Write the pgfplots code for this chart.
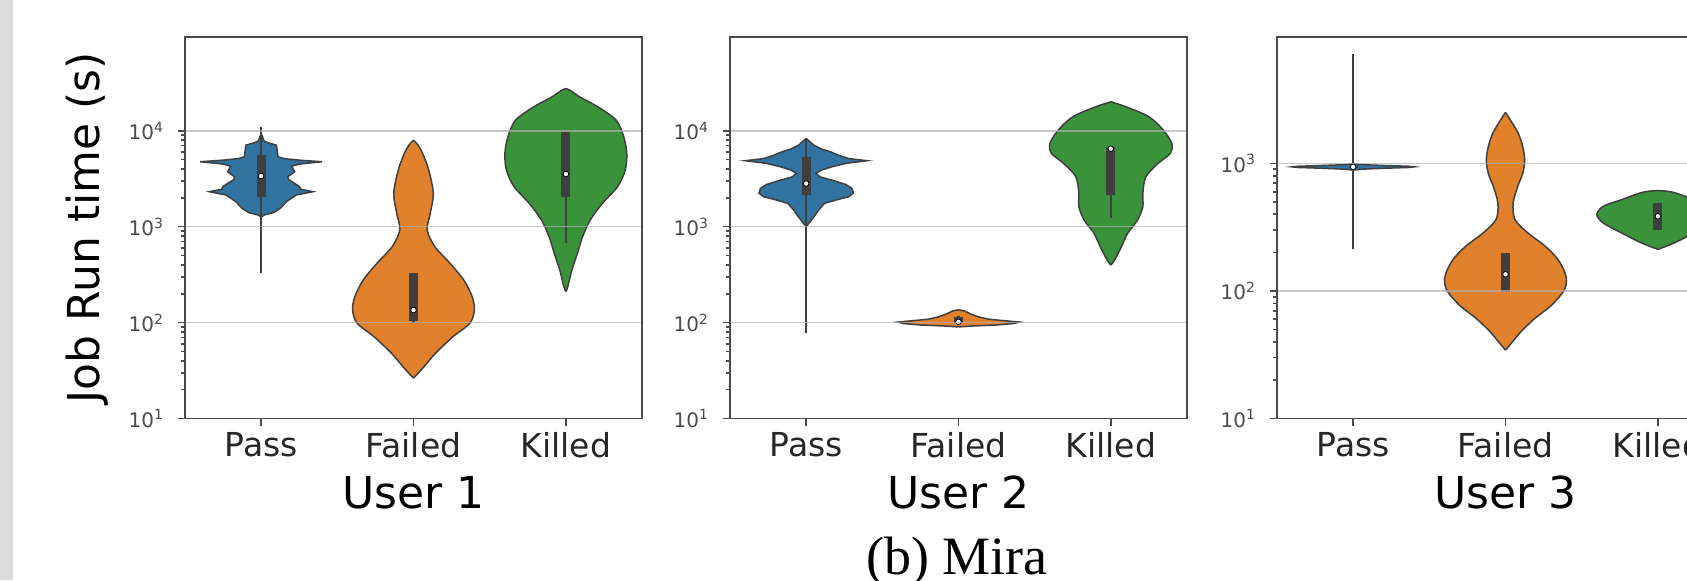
\documentclass[border=0pt]{standalone}
\usepackage{fontspec}
\setmainfont{DejaVu Sans}
\newfontfamily\seriffont{Liberation Serif}
\usepackage{pgfplots}
\usepackage{pgfplotstable}
\pgfplotsset{compat=1.18}
\usepgfplotslibrary{fillbetween}

\definecolor{cblue}{HTML}{3274A1}
\definecolor{corange}{HTML}{E1812C}
\definecolor{cgreen}{HTML}{3A923A}
\definecolor{edgec}{HTML}{3F3F3F}
\definecolor{gridc}{HTML}{B0B0B0}
\definecolor{framec}{HTML}{4A4A4A}
\definecolor{stripc}{HTML}{DCDCDC}

% violin outlines: l = log10(run time), w = half width (category units)
\pgfplotstableread{
l w
3.10 0.00
3.122 0.02
3.146 0.08
3.191 0.125
3.26 0.165
3.33 0.23
3.365 0.34
3.39 0.26
3.42 0.25
3.451 0.22
3.49 0.18
3.521 0.175
3.55 0.20
3.573 0.22
3.60 0.21
3.63 0.20
3.653 0.25
3.677 0.40
3.695 0.24
3.71 0.15
3.729 0.11
3.80 0.105
3.85 0.10
3.868 0.06
3.89 0.02
3.93 0.01
3.97 0.00
}\vAp
\pgfplotstableread{
l w
1.42 0.00
1.542 0.07
1.681 0.145
1.854 0.26
1.993 0.37
2.132 0.40
2.271 0.385
2.444 0.33
2.618 0.24
2.792 0.14
2.965 0.09
3.139 0.11
3.347 0.13
3.59 0.10
3.764 0.06
3.85 0.03
3.903 0.00
}\vAf
\pgfplotstableread{
l w
2.323 0.00
2.375 0.013
2.549 0.04
2.722 0.076
2.896 0.11
3.069 0.16
3.243 0.24
3.417 0.34
3.59 0.39
3.764 0.40
3.9375 0.38
4.111 0.33
4.25 0.21
4.354 0.09
4.42 0.03
4.441 0.00
}\vAk
\pgfplotstableread{
l w
3.00 0.00
3.04 0.02
3.10 0.05
3.17 0.08
3.243 0.12
3.28 0.20
3.3125 0.28
3.35 0.31
3.40 0.30
3.44 0.26
3.48 0.18
3.52 0.09
3.556 0.065
3.59 0.10
3.625 0.17
3.66 0.26
3.6875 0.40
3.71 0.28
3.74 0.22
3.78 0.16
3.81 0.10
3.85 0.05
3.92 0.00
}\vBp
\pgfplotstableread{
l w
1.955 0.00
1.965 0.10
1.975 0.25
1.99 0.36
2.005 0.40
2.02 0.30
2.035 0.20
2.06 0.13
2.09 0.08
2.12 0.04
2.135 0.00
}\vBf
\pgfplotstableread{
l w
2.60 0.00
2.653 0.025
2.792 0.07
2.93 0.11
3.069 0.175
3.208 0.21
3.347 0.21
3.521 0.23
3.66 0.31
3.764 0.39
3.868 0.40
4.007 0.345
4.146 0.25
4.25 0.10
4.302 0.00
}\vBk
\pgfplotstableread{
l w
2.948 0.00
2.955 0.06
2.962 0.20
2.968 0.36
2.973 0.40
2.978 0.36
2.984 0.20
2.990 0.06
2.997 0.00
}\vCp
\pgfplotstableread{
l w
1.536 0.00
1.60 0.045
1.679 0.10
1.782 0.19
1.886 0.30
1.99 0.377
2.067 0.40
2.145 0.39
2.249 0.343
2.352 0.26
2.456 0.146
2.56 0.062
2.689 0.05
2.819 0.08
2.922 0.113
3.026 0.126
3.13 0.113
3.233 0.085
3.337 0.034
3.40 0.00
}\vCf
\pgfplotstableread{
l w
2.326 0.00
2.378 0.11
2.456 0.24
2.534 0.36
2.598 0.40
2.663 0.36
2.715 0.24
2.767 0.12
2.782 0.06
2.787 0.00
}\vCk

% #1 table, #2 centre, #3 colour, #4 id, #5 extra options
\newcommand{\violin}[5]{%
  \addplot[edgec, line width=0.75pt, name path=#4r, #5, forget plot] table[x expr={#2+\thisrow{w}}, y expr={10^(\thisrow{l})}] {#1};
  \addplot[edgec, line width=0.75pt, name path=#4l, #5, forget plot] table[x expr={#2-\thisrow{w}}, y expr={10^(\thisrow{l})}] {#1};
  \addplot[fill=#3, draw=none, forget plot] fill between[of=#4r and #4l];
}
% #1 centre, #2-#3 whisker, #4-#5 box, #6 median
\newcommand{\innerbox}[6]{%
  \addplot[edgec, line width=1.1pt, forget plot] coordinates {(#1,#2) (#1,#3)};
  \addplot[edgec, line width=4.5pt, forget plot] coordinates {(#1,#4) (#1,#5)};
  \addplot[only marks, mark=*, mark size=1.4pt, mark options={fill=white, draw=none}, forget plot] coordinates {(#1,#6)};
}

\begin{document}
\begin{tikzpicture}
\fill[stripc] (0,0) rectangle (6.25pt,290pt);

\begin{axis}[
    scale only axis, width=228.5pt, height=190.75pt, anchor=south west,
    at={(92.5pt,80.75pt)},
    xmin=-0.5, xmax=2.5, ymode=log, ymin=10, ymax=95000,
    xtick={0,1,2}, xticklabels={Pass,Failed,Killed},
    xtick pos=left, ytick pos=left, tick align=outside,
    major tick length=3.5pt, minor tick length=2pt,
    every tick/.append style={framec, line width=0.8pt},
    axis line style={framec, line width=0.9pt},
    ymajorgrids, major grid style={gridc, line width=0.8pt, opacity=0.7},
    axis on top,
    xticklabel style={font=\fontsize{16.5}{16.5}\selectfont, text=black!85},
    yticklabel style={font=\fontsize{10}{10}\selectfont, text=black!70, xshift=-3.5pt},
    xlabel style={font=\fontsize{22}{22}\selectfont, at={(axis description cs:0.5,-0.2346)}, anchor=base},
    ytick={10,100,1000,10000},
    yticklabels={10\textsuperscript{1},10\textsuperscript{2},10\textsuperscript{3},10\textsuperscript{4}},
    xlabel={User 1}, ylabel={Job Run time (s)},
    ylabel style={font=\fontsize{22}{22}\selectfont, at={(axis description cs:-0.2134,0.5)}, anchor=center}]
\violin{\vAp}{0}{cblue}{ap}{}
\violin{\vAf}{1}{corange}{af}{smooth}
\violin{\vAk}{2}{cgreen}{ak}{smooth}
\innerbox{0}{325}{11000}{2050}{5580}{3370}
\innerbox{1}{100}{330}{105}{330}{135}
\innerbox{2}{676}{9800}{2040}{9800}{3540}
\end{axis}

\begin{axis}[
    scale only axis, width=228.5pt, height=190.75pt, anchor=south west,
    at={(365pt,80.75pt)},
    xmin=-0.5, xmax=2.5, ymode=log, ymin=10, ymax=95000,
    xtick={0,1,2}, xticklabels={Pass,Failed,Killed},
    xtick pos=left, ytick pos=left, tick align=outside,
    major tick length=3.5pt, minor tick length=2pt,
    every tick/.append style={framec, line width=0.8pt},
    axis line style={framec, line width=0.9pt},
    ymajorgrids, major grid style={gridc, line width=0.8pt, opacity=0.7},
    axis on top,
    xticklabel style={font=\fontsize{16.5}{16.5}\selectfont, text=black!85},
    yticklabel style={font=\fontsize{10}{10}\selectfont, text=black!70, xshift=-3.5pt},
    xlabel style={font=\fontsize{22}{22}\selectfont, at={(axis description cs:0.5,-0.2346)}, anchor=base},
    ytick={10,100,1000,10000},
    yticklabels={10\textsuperscript{1},10\textsuperscript{2},10\textsuperscript{3},10\textsuperscript{4}},
    xlabel={User 2}]
\violin{\vBp}{0}{cblue}{bp}{}
\violin{\vBf}{1}{corange}{bf}{}
\violin{\vBk}{2}{cgreen}{bk}{smooth}
\innerbox{0}{78}{8300}{2140}{5370}{2820}
\innerbox{1}{97}{118}{98}{115}{102}
\innerbox{2}{1230}{6800}{2140}{6800}{6500}
\end{axis}

\begin{axis}[
    scale only axis, width=228.5pt, height=190.75pt, anchor=south west,
    at={(638.5pt,80.75pt)},
    xmin=-0.5, xmax=2.5, ymode=log, ymin=10, ymax=9800,
    xtick={0,1,2}, xticklabels={Pass,Failed,Killed},
    xtick pos=left, ytick pos=left, tick align=outside,
    major tick length=3.5pt, minor tick length=2pt,
    every tick/.append style={framec, line width=0.8pt},
    axis line style={framec, line width=0.9pt},
    ymajorgrids, major grid style={gridc, line width=0.8pt, opacity=0.7},
    axis on top,
    xticklabel style={font=\fontsize{16.5}{16.5}\selectfont, text=black!85},
    yticklabel style={font=\fontsize{10}{10}\selectfont, text=black!70, xshift=-3.5pt},
    xlabel style={font=\fontsize{22}{22}\selectfont, at={(axis description cs:0.5,-0.2346)}, anchor=base},
    ytick={10,100,1000},
    yticklabels={10\textsuperscript{1},10\textsuperscript{2},10\textsuperscript{3}},
    xlabel={User 3}]
\violin{\vCp}{0}{cblue}{cp}{}
\violin{\vCf}{1}{corange}{cf}{smooth}
\violin{\vCk}{2}{cgreen}{ck}{smooth}
\innerbox{0}{212}{7160}{925}{955}{940}
\innerbox{1}{98}{200}{98}{200}{135}
\innerbox{2}{300}{490}{300}{490}{385}
\end{axis}

\node[anchor=base, font=\seriffont\fontsize{27}{27}\selectfont] at (478.5pt,3pt) {(b) Mira};

\pgfresetboundingbox
\useasboundingbox (0,0) rectangle (843.5pt,290pt);
\end{tikzpicture}
\end{document}
